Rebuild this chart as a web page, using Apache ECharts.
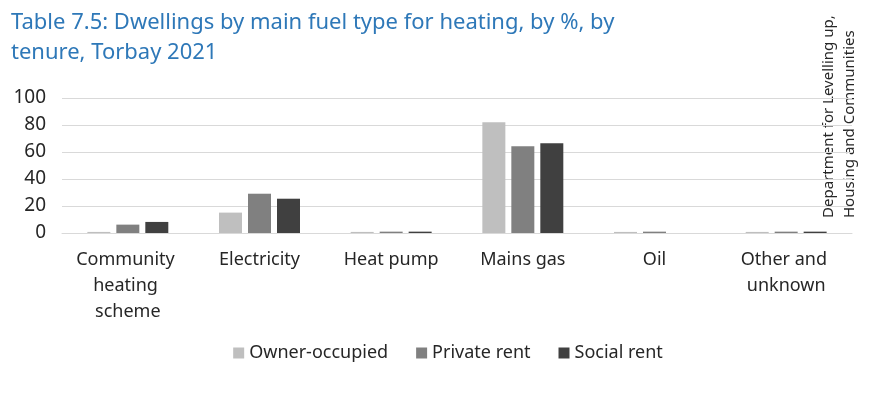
<!DOCTYPE html>
<html>
<head>
<meta charset="utf-8">
<script src="https://cdn.jsdelivr.net/npm/echarts@6/dist/echarts.min.js"></script>
<style>
  html, body { margin: 0; padding: 0; background: #fff; }
  #chart { width: 896px; height: 399px; }
</style>
</head>
<body>
<div id="chart"></div>
<script>
const categories = ['Community heating scheme', 'Electricity', 'Heat pump', 'Mains gas', 'Oil', 'Other and unknown'];
const seriesNames = ['Owner-occupied', 'Private rent', 'Social rent'];
const ownerOccupied = [0.8, 15.1, 0.8, 82.1, 0.8, 0.8];
const privateRent = [6.2, 29.1, 1.0, 64.2, 1.0, 1.0];
const socialRent = [8.2, 25.4, 1.0, 66.4, 0, 1.0];
const yTicks = [0, 20, 40, 60, 80, 100];

const colors = ['#bfbfbf', '#808080', '#404040'];
const font = 'Noto Sans';

const chart = echarts.init(document.getElementById('chart'));
chart.setOption({
  animation: false,
  color: colors,
  title: {
    text: 'Table 7.5: Dwellings by main fuel type for heating, by %, by\ntenure, Torbay 2021',
    left: 6,
    top: 3,
    textStyle: {
      color: '#2e78b8',
      fontFamily: font,
      fontWeight: 'normal',
      fontSize: 22,
      lineHeight: 30
    }
  },
  grid: {
    left: 62,
    right: 44,
    top: 98,
    bottom: 166
  },
  legend: {
    data: seriesNames,
    bottom: 32,
    left: 'center',
    icon: 'rect',
    itemWidth: 11,
    itemHeight: 11,
    itemGap: 28,
    textStyle: {
      color: '#262626',
      fontFamily: font,
      fontSize: 18
    }
  },
  xAxis: {
    type: 'category',
    data: categories,
    axisLine: { lineStyle: { color: '#d9d9d9' } },
    axisTick: { show: false },
    axisLabel: {
      color: '#262626',
      fontFamily: font,
      fontSize: 18,
      lineHeight: 26,
      margin: 14,
      width: 116,
      overflow: 'break',
      interval: 0
    }
  },
  yAxis: {
    type: 'value',
    min: yTicks[0],
    max: yTicks[yTicks.length - 1],
    interval: 20,
    axisLine: { show: false },
    axisTick: { show: false },
    splitLine: { lineStyle: { color: '#d9d9d9' } },
    axisLabel: {
      color: '#262626',
      fontFamily: font,
      fontSize: 19,
      margin: 16
    }
  },
  series: [
    { name: seriesNames[0], type: 'bar', data: ownerOccupied, barWidth: 23, barGap: '26%' },
    { name: seriesNames[1], type: 'bar', data: privateRent, barWidth: 23, barGap: '26%' },
    { name: seriesNames[2], type: 'bar', data: socialRent, barWidth: 23, barGap: '26%' }
  ],
  graphic: [{
    type: 'text',
    x: 818,
    y: 218,
    rotation: Math.PI / 2,
    style: {
      text: 'Department for Levelling up,\nHousing and Communities',
      fill: '#262626',
      font: '15px "Noto Sans"',
      lineHeight: 21,
      textAlign: 'left',
      textVerticalAlign: 'top'
    }
  }]
});
</script>
</body>
</html>
